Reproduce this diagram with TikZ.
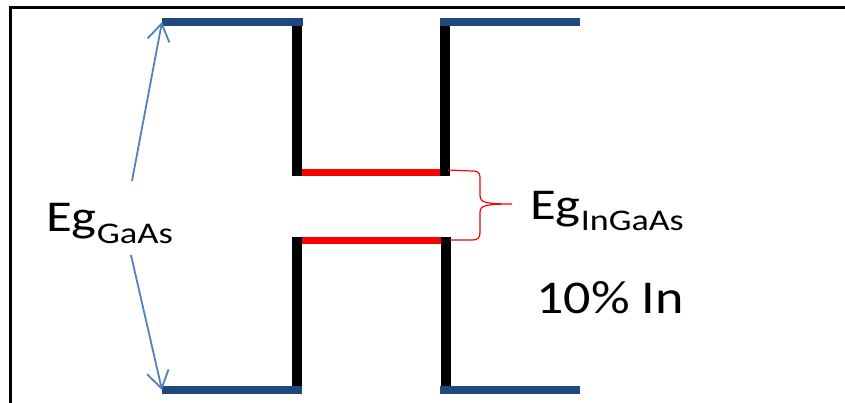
\documentclass[tikz,border=0pt]{standalone}
\usepackage{fontspec}
\usepackage{graphicx}
\setmainfont{Carlito}
\usetikzlibrary{arrows.meta}
\definecolor{bandblue}{HTML}{1F497D}
\definecolor{gapblue}{HTML}{4F81BD}
\newcommand{\wide}[3]{\scalebox{#1}[1]{\fontsize{#2}{#2}\selectfont #3}}

\begin{document}
\begin{tikzpicture}[x=1pt, y=-1pt,
  frame/.style={line width=3pt},
  cb/.style={draw=bandblue, line width=8pt},
  wall/.style={draw=black, line width=10pt},
  well/.style={draw=red, line width=7pt},
  gaparr/.style={draw=gapblue, line width=1.8pt, -{Straight Barb[length=17pt, width=22pt]}},
  brc/.style={draw=red, line width=1.2pt},
  lbl/.style={inner sep=0pt, anchor=base west}]
\useasboundingbox (0,0) rectangle (845,403);
% frame (only top and left are visible)
\draw[frame] (9.2,7.5) -- (845,7.5);
\draw[frame] (10.7,6) -- (10.7,403);
% InGaAs well edges
\draw[well] (297,172.5) -- (445,172.5);
\draw[well] (297,240.5) -- (445,240.5);
% heterointerfaces
\draw[wall] (297,26) -- (297,176);
\draw[wall] (444.5,26) -- (444.5,176);
\draw[wall] (297,237) -- (297,386);
\draw[wall] (445.5,237) -- (445.5,386);
% GaAs band edges
\coordinate (gaTop) at (162,22);
\coordinate (gaBot) at (162,390);
\draw[cb] (gaTop) -- (302.5,22);
\draw[cb] (439.5,22) -- (580,22);
\draw[cb] (gaBot) -- (302,390);
\draw[cb] (440,390) -- (580,390);
% labels
\node[lbl] (egGaAs) at (46,232)
  {\wide{1.2}{44}{Eg}\raisebox{-12pt}{\wide{1.22}{30}{GaAs}}};
\node[lbl] (egInGaAs) at (530,220)
  {\wide{1.2}{44}{Eg}\raisebox{-10pt}{\wide{1.2}{30}{InGaAs}}};
\node[lbl] (pct) at (536,313) {\wide{1.15}{47}{10\% In}};
% gap arrows
\coordinate (upTail) at (132,181);
\coordinate (dnTail) at (131,255);
\draw[gaparr] (upTail) -- (gaTop);
\draw[gaparr] (dnTail) -- (gaBot);
% brace round the well
\coordinate (wTop) at (448,170);
\coordinate (wBot) at (450,240);
\coordinate (tip) at (512,204);
\draw[brc] (wTop) -- (472,171) .. controls (480,171) and (480,174) .. (480,180)
  -- (480,196) .. controls (480,202) and (484,204) .. (tip)
  .. controls (484,204) and (480,206) .. (480,212)
  -- (480,232) .. controls (480,238) and (478,240) .. (472,240) -- (wBot);
\end{tikzpicture}
\end{document}
